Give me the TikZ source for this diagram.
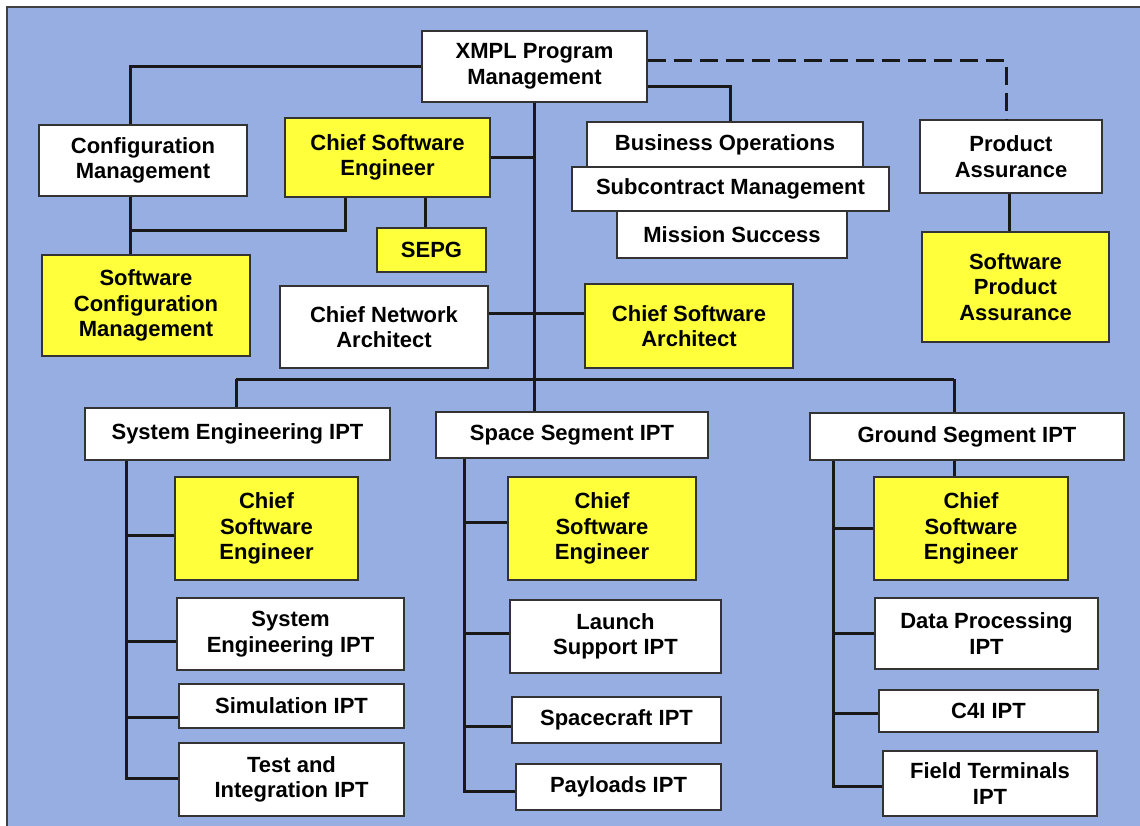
\documentclass[tikz,border=0pt]{standalone}
\usepackage{fontspec}
\setmainfont{Liberation Sans}
\definecolor{chartblue}{RGB}{150,174,226}
\definecolor{swyellow}{RGB}{255,255,60}
\begin{document}
\begin{tikzpicture}[x=1pt, y=-1pt,
  box/.style={draw=black!80, line width=1.6pt, fill=white, align=center,
    font=\fontsize{22}{25.5}\selectfont\bfseries, inner sep=2pt},
  swbox/.style={box, fill=swyellow},
  link/.style={line width=3pt, black!90},
  dashlink/.style={link, dash pattern=on 18pt off 8pt}]
  \useasboundingbox (0,0) rectangle (1140,826);
  % backdrop
  \fill[chartblue] (7,7) rectangle (1140,826);
  \draw[black!75, line width=2pt] (7,826) -- (7,7) -- (1140,7);
  % ---------- program level ----------
  \node[box, minimum width=225pt, minimum height=71pt] (pm) at (534.5,66.5)
    {XMPL Program\\Management};
  \node[box, minimum width=208pt, minimum height=71pt] (cfgmgmt) at (143,160.5)
    {Configuration\\Management};
  \node[swbox, minimum width=205pt, minimum height=79pt] (cse) at (387.5,157.5)
    {Chief Software\\Engineer};
  \node[swbox, minimum width=109pt, minimum height=44pt] (sepg) at (431.5,250)
    {SEPG};
  \node[swbox, minimum width=208pt, minimum height=101pt] (swcm) at (146,305.5)
    {Software\\Configuration\\Management};
  \node[box, minimum width=208pt, minimum height=82pt] (cna) at (384,327)
    {Chief Network\\Architect};
  \node[swbox, minimum width=208pt, minimum height=84pt] (csa) at (689,326)
    {Chief Software\\Architect};
  % staff boxes, stacked
  \node[box, minimum width=276pt, minimum height=45pt] (busops) at (725,144.5)
    {Business Operations};
  \node[box, minimum width=230pt, minimum height=47pt] (mission) at (732,234.5)
    {Mission Success};
  \node[box, minimum width=317pt, minimum height=44pt] (subcon) at (730.5,189)
    {Subcontract Management};
  \node[box, minimum width=182pt, minimum height=73pt] (prodas) at (1011,156.5)
    {Product\\Assurance};
  \node[swbox, minimum width=187pt, minimum height=110pt] (swpa) at (1015.5,287)
    {Software\\Product\\Assurance};
  % ---------- IPT headers ----------
  \node[box, minimum width=305pt, minimum height=52pt] (sysipt) at (237.5,434)
    {System Engineering IPT};
  \node[box, minimum width=272pt, minimum height=46pt] (spaceipt) at (572,435)
    {Space Segment IPT};
  \node[box, minimum width=314pt, minimum height=47pt] (groundipt) at (967,436.5)
    {Ground Segment IPT};
  % system engineering column
  \node[swbox, minimum width=183pt, minimum height=103pt] (syscse) at (266.5,528.5)
    {Chief\\Software\\Engineer};
  \node[box, minimum width=227pt, minimum height=72pt] (sysengipt) at (290.5,634)
    {System\\Engineering IPT};
  \node[box, minimum width=225pt, minimum height=44pt] (simipt) at (291.5,706)
    {Simulation IPT};
  \node[box, minimum width=225pt, minimum height=73pt] (testipt) at (291.5,779.5)
    {Test and\\Integration IPT};
  % space segment column
  \node[swbox, minimum width=188pt, minimum height=103pt] (spacecse) at (602,528.5)
    {Chief\\Software\\Engineer};
  \node[box, minimum width=211pt, minimum height=73pt] (launchipt) at (615.5,636.5)
    {Launch\\Support IPT};
  \node[box, minimum width=209pt, minimum height=46pt] (craftipt) at (616.5,720)
    {Spacecraft IPT};
  \node[box, minimum width=205pt, minimum height=46pt] (payipt) at (618.5,787)
    {Payloads IPT};
  % ground segment column
  \node[swbox, minimum width=194pt, minimum height=103pt] (groundcse) at (971,528.5)
    {Chief\\Software\\Engineer};
  \node[box, minimum width=223pt, minimum height=71pt] (dataipt) at (986.5,633.5)
    {Data Processing\\IPT};
  \node[box, minimum width=219pt, minimum height=42pt] (cfouript) at (988.5,711)
    {C4I IPT};
  \node[box, minimum width=214pt, minimum height=65pt] (fieldipt) at (990,783.5)
    {Field Terminals\\IPT};
  % ---------- connectors ----------
  \coordinate (busW) at (236,379);
  \coordinate (busE) at (954,379);
  \coordinate (busM) at (pm.south |- busW);
  \draw[link] (pm.south) -- (busM);
  \draw[link] (busW) -- (busE);
  \draw[link] (busW) -- (busW |- sysipt.north);
  \draw[link] (busM) -- (busM |- spaceipt.north);
  \draw[link] (busE) -- (busE |- groundipt.north);
  \draw[link] (cse.east) -- (cse.east -| pm.south);
  \coordinate (cnaj) at ([yshift=14pt]cna.east);
  \draw[link] (cnaj) -- (cnaj -| csa.west);
  % left branch
  \coordinate (cfgx) at ([xshift=-13pt]cfgmgmt.north);
  \coordinate (cfgy) at ([xshift=-13pt]cfgmgmt.south);
  \coordinate (cfgjoin) at (cfgy |- 0,231);
  \coordinate (csex) at ([xshift=-42pt]cse.south);
  \coordinate (sepgx) at ([xshift=38pt]cse.south);
  \draw[link] (pm.west) -| (cfgx);
  \draw[link] (cfgy) -- (cfgy |- swcm.north);
  \draw[link] (cfgjoin) -| (csex);
  \draw[link] (sepgx) -- (sepgx |- sepg.north);
  % right branch
  \draw[link] ([yshift=-20.5pt]pm.east) -| ([xshift=5pt]busops.north);
  \draw[dashlink] ([yshift=5.5pt]pm.east) -| ([xshift=-5pt]prodas.north);
  \coordinate (pax) at ([xshift=-2pt]prodas.south);
  \draw[link] (pax) -- (pax |- swpa.north);
  % column spines
  \coordinate (sysx) at ([xshift=-111.5pt]sysipt.south);
  \draw[link] ([yshift=-7pt]syscse.west) -| (sysx);
  \draw[link] ([yshift=-7pt]sysengipt.west) -| (sysx);
  \draw[link] ([yshift=-11pt]simipt.west) -| (sysx);
  \draw[link] ([yshift=1.5pt]testipt.west) -| (sysx);
  \coordinate (spacex) at ([xshift=-108pt]spaceipt.south);
  \draw[link] ([yshift=6.5pt]spacecse.west) -| (spacex);
  \draw[link] ([yshift=3.5pt]launchipt.west) -| (spacex);
  \draw[link] ([yshift=-6pt]craftipt.west) -| (spacex);
  \draw[link] ([yshift=-4pt]payipt.west) -| (spacex);
  \coordinate (groundx) at ([xshift=-134pt]groundipt.south);
  \coordinate (gcsex) at ([xshift=-13pt]groundipt.south);
  \draw[link] (gcsex) -- (gcsex |- groundcse.north);
  \draw[link] (groundcse.west) -| (groundx);
  \draw[link] (dataipt.west) -| (groundx);
  \draw[link] ([yshift=-2pt]cfouript.west) -| (groundx);
  \draw[link] ([yshift=-2.5pt]fieldipt.west) -| (groundx);
\end{tikzpicture}
\end{document}
